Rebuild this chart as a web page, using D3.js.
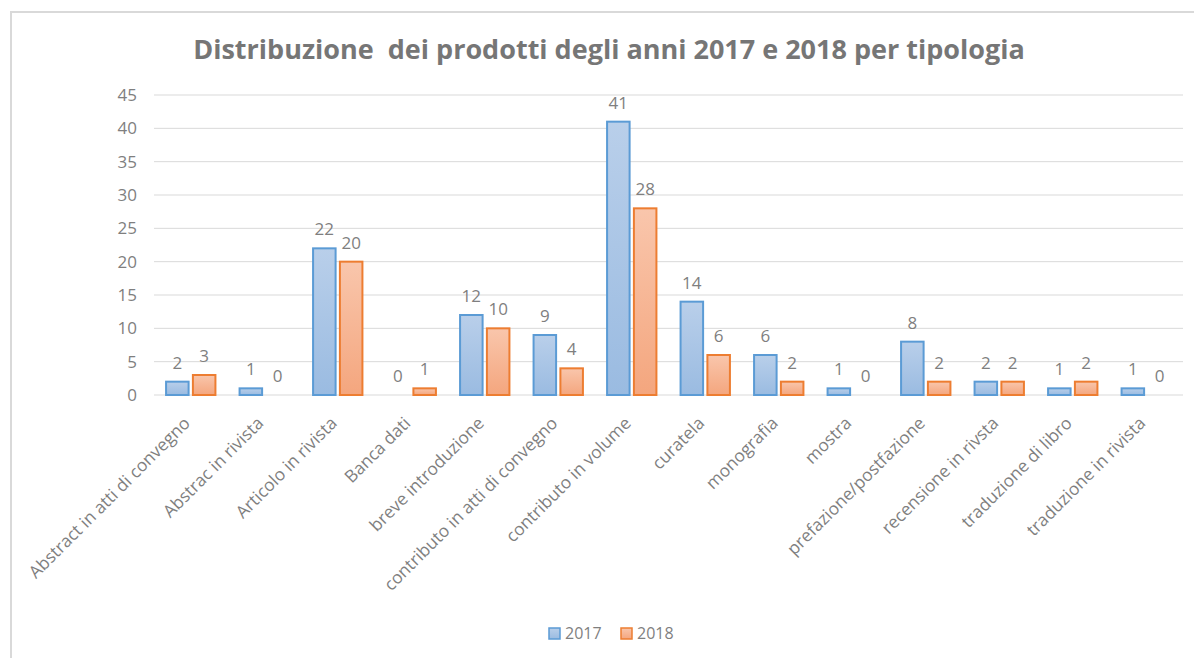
<!DOCTYPE html>
<html>

<head>
  <meta charset='utf-8'>
  <script type="text/javascript" src="https://cdn.jsdelivr.net/npm/d3@7"></script>
  <style>
    body { margin: 0; background: #fff; }
    text { font-family: "Open Sans", "Noto Sans", sans-serif; }
  </style>
</head>

<body>
</body>
<script>
  let categories = ["Abstract in atti di convegno", "Abstrac in rivista", "Articolo in rivista", "Banca dati",
    "breve introduzione", "contributo in atti di convegno", "contributo in volume", "curatela",
    "monografia", "mostra", "prefazione/postfazione", "recensione in rivsta", "traduzione di libro",
    "traduzione in rivista"]
  let values2017 = [2, 1, 22, 0, 12, 9, 41, 14, 6, 1, 8, 2, 1, 1]
  let values2018 = [3, 0, 20, 1, 10, 4, 28, 6, 2, 0, 2, 2, 2, 0]
  let seriesNames = ["2017", "2018"]
  let yTicks = [0, 5, 10, 15, 20, 25, 30, 35, 40, 45]

  let w = 1194
  let h = 658
  let plotL = 154, plotR = 1183, plotT = 95, plotB = 395

  let svg = d3.select('body').append('svg')
    .attr('width', w)
    .attr('height', h)

  // gradients
  let defs = svg.append('defs')
  let grads = [
    { id: 'g17', top: '#b9cfea', bot: '#9abbe1' },
    { id: 'g18', top: '#f9c6ac', bot: '#f4a67e' }
  ]
  grads.forEach(g => {
    let lg = defs.append('linearGradient').attr('id', g.id)
      .attr('x1', 0).attr('y1', 0).attr('x2', 0).attr('y2', 1)
    lg.append('stop').attr('offset', '0%').attr('stop-color', g.top)
    lg.append('stop').attr('offset', '100%').attr('stop-color', g.bot)
  })
  let fills = ['url(#g17)', 'url(#g18)']
  let strokes = ['#5b9bd5', '#ed7d31']

  // frame
  svg.append('path')
    .attr('d', 'M11,' + (h + 5) + ' L11,12 L' + (w + 5) + ',12')
    .attr('fill', 'none')
    .attr('stroke', '#d9d9d9')
    .attr('stroke-width', 2)

  // title
  svg.append('text')
    .attr('x', 609)
    .attr('y', 59)
    .attr('text-anchor', 'middle')
    .attr('font-size', 27)
    .attr('font-weight', 'bold')
    .attr('fill', '#767676')
    .attr('xml:space', 'preserve')
    .text('Distribuzione  dei prodotti degli anni 2017 e 2018 per tipologia')

  let xScale = d3.scaleBand()
    .domain(categories)
    .range([plotL, plotR])

  let yScale = d3.scaleLinear()
    .domain([0, 45])
    .range([plotB, plotT])

  // gridlines
  svg.append('g').selectAll('line')
    .data(yTicks)
    .enter()
    .append('line')
    .attr('x1', plotL).attr('x2', plotR)
    .attr('y1', d => yScale(d)).attr('y2', d => yScale(d))
    .attr('stroke', '#d9d9d9')
    .attr('stroke-width', 1)

  // y axis labels
  let yAxis = d3.axisLeft(yScale).tickValues(yTicks).tickSize(0).tickPadding(0)
  let yg = svg.append('g')
    .attr('transform', 'translate(' + (plotL - 17) + ',0)')
    .call(yAxis)
  yg.select('.domain').remove()
  yg.selectAll('text')
    .attr('font-size', 17)
    .attr('fill', '#7f7f7f')
    .style('font-family', '"Open Sans", sans-serif')

  let xSub = d3.scaleBand()
    .domain(seriesNames)
    .range([0, xScale.bandwidth()])
    .paddingInner(0.16)
    .paddingOuter(0.45)

  let series = [values2017, values2018]
  series.forEach((vals, si) => {
    let data = categories.map((c, i) => ({ cat: c, v: vals[i] }))
    let g = svg.append('g')
    g.selectAll('rect')
      .data(data.filter(d => d.v > 0))
      .enter()
      .append('rect')
      .attr('x', d => xScale(d.cat) + xSub(seriesNames[si]))
      .attr('y', d => yScale(d.v))
      .attr('width', xSub.bandwidth())
      .attr('height', d => plotB - yScale(d.v))
      .attr('fill', fills[si])
      .attr('stroke', strokes[si])
      .attr('stroke-width', 2)
    g.selectAll('text')
      .data(data)
      .enter()
      .append('text')
      .attr('x', d => xScale(d.cat) + xSub(seriesNames[si]) + xSub.bandwidth() / 2)
      .attr('y', d => yScale(d.v) - 13)
      .attr('text-anchor', 'middle')
      .attr('font-size', 17)
      .attr('fill', '#7f7f7f')
      .text(d => d.v)
  })

  // x labels
  svg.append('g').selectAll('text')
    .data(categories)
    .enter()
    .append('text')
    .attr('transform', d => 'translate(' + (xScale(d) + xScale.bandwidth() / 2 - 4) + ',' + (plotB + 25) + ') rotate(-45)')
    .attr('text-anchor', 'end')
    .attr('dy', '0.35em')
    .attr('font-size', 17.3)
    .attr('fill', '#7f7f7f')
    .text(d => d)

  // legend
  let legend = svg.append('g').attr('transform', 'translate(549,628)')
  let lx = [0, 72]
  seriesNames.forEach((s, i) => {
    legend.append('rect')
      .attr('x', lx[i]).attr('y', 0)
      .attr('width', 11).attr('height', 11)
      .attr('fill', fills[i])
      .attr('stroke', strokes[i])
      .attr('stroke-width', 1.5)
    legend.append('text')
      .attr('x', lx[i] + 16).attr('y', 11)
      .attr('font-size', 16)
      .attr('fill', '#7f7f7f')
      .text(s)
  })
</script>

</html>
